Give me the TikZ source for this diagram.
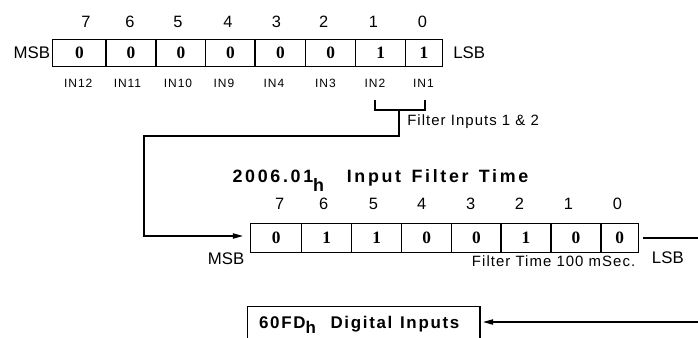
\documentclass[tikz,border=0pt]{standalone}
\usepackage{fontspec}
\setmainfont{Liberation Sans}
\newfontfamily\valfont{Liberation Serif}
\usetikzlibrary{arrows.meta}
\tikzset{
  cellA/.style={draw, line width=1.1pt, inner sep=0pt, minimum height=20.55pt, minimum width=#1,
    font=\valfont\bfseries\fontsize{13pt}{13pt}\selectfont},
  cellB/.style={cellA=#1, minimum height=22.05pt},
  bitnum/.style={inner sep=0pt, font=\fontsize{12.3pt}{12pt}\selectfont},
  sblabel/.style={inner sep=0pt, anchor=base west, font=\fontsize{12.6pt}{12pt}\selectfont},
  inlabel/.style={inner sep=0pt, anchor=base, font=\fontsize{9pt}{9pt}\selectfont\addfontfeature{LetterSpace=8}},
  notetext/.style={inner sep=0pt, anchor=base west, font=\fontsize{11.2pt}{11pt}\selectfont\addfontfeature{LetterSpace=7}},
  conn/.style={line width=0.8pt},
  arr/.style={conn, -{Triangle[length=7.5pt,width=4pt]}},
}
\begin{document}
\begin{tikzpicture}[x=0.75pt, y=-0.75pt]
\useasboundingbox (0,0) rectangle (698,337);
\clip (0,0) rectangle (698,337);

% ---- top register (60FD digital inputs bits) ----
\node[cellA=40.0pt]  (a7) at (79.35,53) {0};
\node[cellA=37.5pt]  (a6) at (131,53) {0};
\node[cellA=37.3pt]  (a5) at (180.85,53) {0};
\node[cellA=37.0pt]  (a4) at (230.35,53) {0};
\node[cellA=38.0pt]  (a3) at (280.35,53) {0};
\node[cellA=37.5pt]  (a2) at (330.7,53) {0};
\node[cellA=37.5pt]  (a1) at (380.7,53) {1};
\node[cellA=27.45pt] (a0) at (424,53) {1};

\node[bitnum] (ta7) at (86,21.7) {7};
\node[bitnum] (ta6) at (130,21.7) {6};
\node[bitnum] (ta5) at (178,21.7) {5};
\node[bitnum] (ta4) at (228,21.7) {4};
\node[bitnum] (ta3) at (276.5,21.7) {3};
\node[bitnum] (ta2) at (323.7,21.7) {2};
\node[bitnum] (ta1) at (373.5,21.7) {1};
\node[bitnum] (ta0) at (422.5,21.7) {0};

\node[sblabel] (msb1) at (13.3,58.3) {MSB};
\node[sblabel] (lsb1) at (453,58.3) {LSB};

\node[inlabel] (in12) at (78.3,87.3) {IN12};
\node[inlabel] (in11) at (127.5,87.3) {IN11};
\node[inlabel] (in10) at (178,87.3) {IN10};
\node[inlabel] (in9)  at (224,87.3) {IN9};
\node[inlabel] (in4)  at (274,87.3) {IN4};
\node[inlabel] (in3)  at (325.5,87.3) {IN3};
\node[inlabel] (in2)  at (375,87.3) {IN2};
\node[inlabel] (in1)  at (423.5,87.3) {IN1};

\node[notetext] (fin) at (407,125) {Filter Inputs 1 \& 2};

% ---- title ----
\node[inner sep=0pt, anchor=base west,
  font=\bfseries\fontsize{13.4pt}{13pt}\selectfont\addfontfeature{LetterSpace=15}]
  (title) at (232.3,182.7) {2006.01\raisebox{-6.75pt}{h}\hspace{17pt}Input\hspace{2pt} Filter\hspace{2pt} Time};

% ---- second register (2006.01 input filter time) ----
\node[cellB=38.25pt] (b7) at (276.2,238) {0};
\node[cellB=37.5pt]  (b6) at (326.7,238) {1};
\node[cellB=37.5pt]  (b5) at (376.7,238) {1};
\node[cellB=37.5pt]  (b4) at (426.7,238) {0};
\node[cellB=37.0pt]  (b3) at (476.35,238) {0};
\node[cellB=37.5pt]  (b2) at (526,238) {1};
\node[cellB=37.5pt]  (b1) at (576,238) {0};
\node[cellB=27.98pt] (b0) at (619.65,238) {0};

\node[bitnum] (tb7) at (279.6,203.5) {7};
\node[bitnum] (tb6) at (323.8,203.5) {6};
\node[bitnum] (tb5) at (373.5,203.5) {5};
\node[bitnum] (tb4) at (421.7,203.5) {4};
\node[bitnum] (tb3) at (470.6,203.5) {3};
\node[bitnum] (tb2) at (519.5,203.5) {2};
\node[bitnum] (tb1) at (568.4,203.5) {1};
\node[bitnum] (tb0) at (617.3,203.5) {0};

\node[sblabel] (msb2) at (207.7,264.3) {MSB};
\node[sblabel] (lsb2) at (651.7,263.3) {LSB};
\node[notetext] (ftime) at (471.7,266.7) {Filter Time 100 mSec.};

% ---- bottom box ----
\node[draw, line width=1.1pt, anchor=north west, inner xsep=8.7pt, inner ysep=7.3pt,
  text height=8.8pt, text depth=30pt, text width=157pt, align=left,
  font=\bfseries\fontsize{12.7pt}{13pt}\selectfont\addfontfeature{LetterSpace=10}]
  (dig) at (246.7,306) {60FD\raisebox{-3.6pt}{h}\hspace{11pt}Digital\hspace{1.5pt} Inputs};

% ---- connectors ----
\coordinate (k1) at (375,100);
\coordinate (k2) at (425,100);
\coordinate (kl) at (375,110);
\coordinate (kr) at (425,110);
\coordinate (kc) at (399,110);
\coordinate (c1) at (144,136);
\coordinate (rout) at (698,238);
\coordinate (rin) at (698,322);

\draw[conn] (k1) -- (kl) -- (kr) -- (k2);
\draw[arr, shorten >=5.3pt] (kc) |- (c1) |- ([yshift=1.5pt]b7.west);
\draw[conn, shorten <=3pt] (b0.east) -- (rout);
\draw[arr, shorten >=1.8pt] (rin) -- (dig.east |- rin);
\end{tikzpicture}
\end{document}
